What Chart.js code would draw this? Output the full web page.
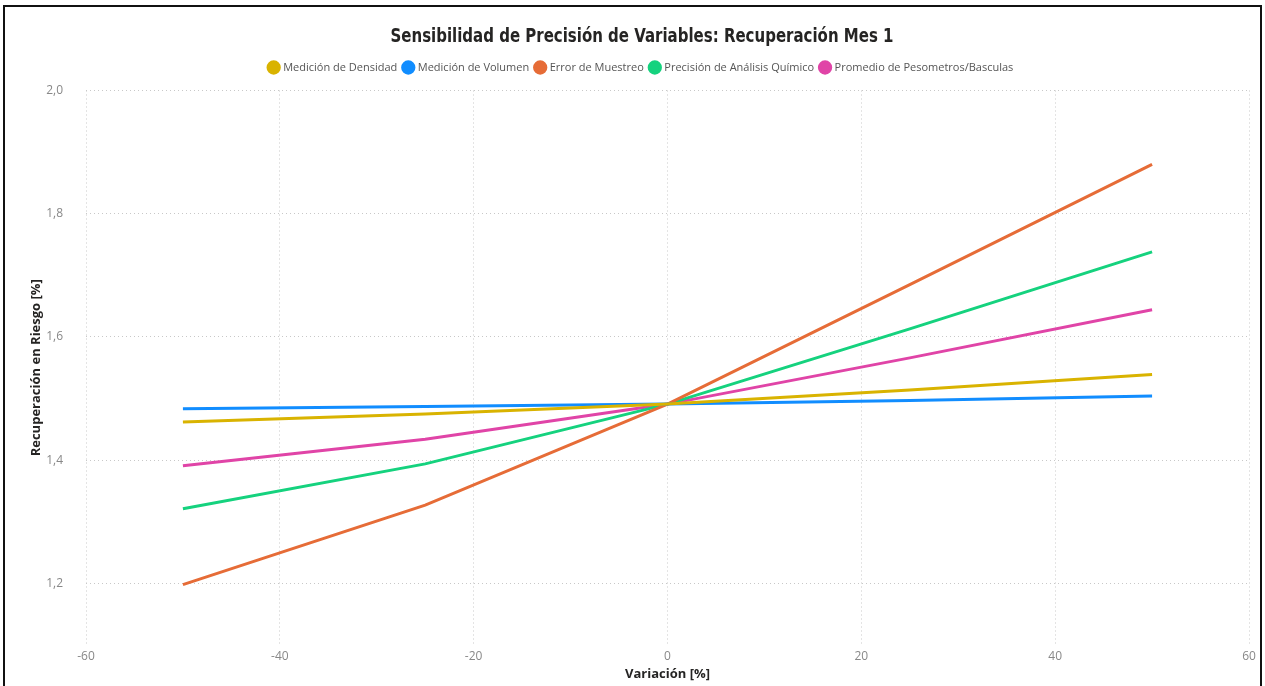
<!DOCTYPE html>
<html>
<head>
<meta charset="utf-8">
<script src="https://cdn.jsdelivr.net/npm/chart.js@4"></script>
<style>
  html, body { margin: 0; padding: 0; background: #fff; }
  #wrap { position: absolute; left: 0; top: 0; width: 1265px; height: 686px; }
  #frame { position: absolute; left: 3px; top: 5px; width: 1255px; height: 700px; border: 2px solid #111; pointer-events: none; }
</style>
</head>
<body>
<div id="wrap"><canvas id="chart" width="1265" height="686"></canvas></div>
<div id="frame"></div>
<script>
// data
const variacion = [-50, -25, 0, 25, 50];
const densidad = [1.462, 1.475, 1.491, 1.514, 1.539];
const volumen = [1.4835, 1.487, 1.491, 1.497, 1.504];
const muestreo = [1.198, 1.327, 1.491, 1.685, 1.880];
const quimico = [1.321, 1.394, 1.491, 1.613, 1.738];
const pesometros = [1.391, 1.434, 1.491, 1.566, 1.644];
const xTicks = [-60, -40, -20, 0, 20, 40, 60];
const yTicks = [1.2, 1.4, 1.6, 1.8, 2.0];

const chartTitle = "Sensibilidad de Precisión de Variables: Recuperación Mes 1";

const series = [
  ["Medición de Densidad", densidad, "#D9B300"],
  ["Medición de Volumen", volumen, "#118DFF"],
  ["Error de Muestreo", muestreo, "#E66C37"],
  ["Precisión de Análisis Químico", quimico, "#15D27E"],
  ["Promedio de Pesometros/Basculas", pesometros, "#E044A7"]
];

const uiFont = "'Open Sans', 'Noto Sans', sans-serif";
const titleFont = "'DejaVu Sans Condensed', sans-serif";

// legend: a bit more room below it, and centred on the page like the title
const legendTweak = {
  id: 'legendTweak',
  beforeInit(chart) {
    const lg = chart.legend;
    const fit = lg.fit;
    const draw = lg.draw;
    lg.fit = function () {
      fit.call(this);
      this.height += 4.5;
    };
    lg.draw = function () {
      const ctx = this.ctx;
      ctx.save();
      ctx.translate(17, -3);
      draw.call(this);
      ctx.restore();
    };
  }
};

// narrow title, like the DIN face in the original
const narrowTitle = {
  id: 'narrowTitle',
  afterDraw(chart) {
    const ctx = chart.ctx;
    ctx.save();
    ctx.font = "bold 20px " + titleFont;
    ctx.fillStyle = "#252423";
    ctx.textAlign = "center";
    ctx.textBaseline = "middle";
    const w = ctx.measureText(chartTitle).width;
    ctx.translate(642, 37);
    ctx.scale(503 / w, 1);
    ctx.fillText(chartTitle, 0, 0);
    ctx.restore();
  }
};

new Chart(document.getElementById("chart"), {
  type: 'line',
  data: {
    datasets: series.map(s => ({
      label: s[0],
      data: variacion.map((x, i) => ({ x: x, y: s[1][i] })),
      borderColor: s[2],
      backgroundColor: s[2],
      borderWidth: 3,
      pointRadius: 0,
      tension: 0
    }))
  },
  plugins: [legendTweak, narrowTitle],
  options: {
    responsive: false,
    animation: false,
    layout: { padding: { left: 0, right: 16, top: 0, bottom: 0 } },
    plugins: {
      title: {
        // keeps the space, text is drawn by narrowTitle
        display: true,
        text: chartTitle,
        color: "rgba(0,0,0,0)",
        font: { family: titleFont, size: 20, weight: 'bold' },
        padding: { top: 29, bottom: 5 }
      },
      legend: {
        display: true,
        labels: {
          usePointStyle: true,
          pointStyle: 'circle',
          boxWidth: 8,
          boxHeight: 8,
          padding: 7,
          color: "#555",
          font: { family: uiFont, size: 11 }
        }
      },
      tooltip: { enabled: false }
    },
    scales: {
      x: {
        type: 'linear',
        min: -60,
        max: 60,
        afterFit: s => { s.height = 41; },
        afterBuildTicks: s => { s.ticks = xTicks.map(v => ({ value: v })); },
        ticks: { color: "#888", padding: 4, font: { family: uiFont, size: 12 } },
        grid: { color: "#c8c8c8", drawTicks: false },
        border: { display: false, dash: [1, 3] },
        title: {
          display: true,
          text: "Variación [%]",
          color: "#252423",
          font: { family: uiFont, size: 13, weight: 'bold' },
          padding: { top: 0, bottom: 4 }
        }
      },
      y: {
        min: 1.1,
        max: 2.0,
        afterFit: s => { s.width = 86; },
        afterBuildTicks: s => { s.ticks = yTicks.map(v => ({ value: v })); },
        ticks: {
          color: "#888",
          padding: 23,
          font: { family: uiFont, size: 12 },
          callback: v => v.toFixed(1).replace('.', ',')
        },
        grid: { color: "#c8c8c8", drawTicks: false },
        border: { display: false, dash: [1, 3] },
        title: {
          display: true,
          text: "Recuperación en Riesgo [%]",
          color: "#252423",
          font: { family: uiFont, size: 13, weight: 'bold' },
          padding: { top: 28, bottom: 0 }
        }
      }
    }
  }
});
</script>
</body>
</html>
